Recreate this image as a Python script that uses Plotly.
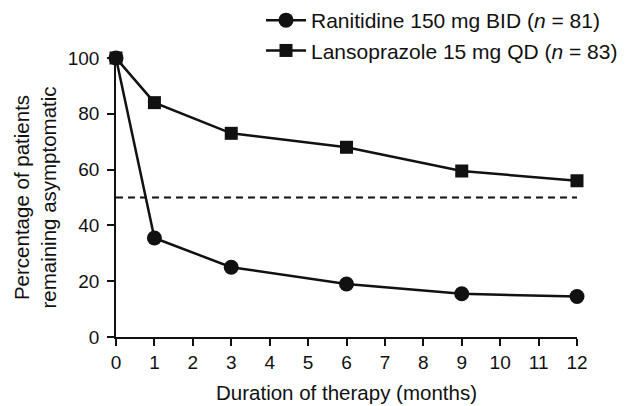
import plotly.graph_objects as go

months = [0, 1, 3, 6, 9, 12]
ranitidine = [100, 35.5, 25, 19, 15.5, 14.5]
lansoprazole = [100, 84, 73, 68, 59.5, 56]
threshold = 50
x_ticks = list(range(0, 13))
y_ticks = [0, 20, 40, 60, 80, 100]

# page body adds an 8px offset; size figure so the visible area is 627x406
W, H = 619, 398
L, R, T, B = 108, 50, 50, 69
PW, PH = W - L - R, H - T - B

fig = go.Figure()
fig.add_trace(go.Scatter(
    x=[0, 12], y=[threshold, threshold], mode="lines",
    line=dict(color="#111", width=2, dash="7px,5px"), showlegend=False, hoverinfo="skip"))
fig.add_trace(go.Scatter(
    x=months, y=lansoprazole, mode="lines+markers",
    name="Lansoprazole 15 mg QD (<i>n</i> = 83)",
    line=dict(color="#111", width=2.5),
    marker=dict(symbol="square", size=13, color="#111"), cliponaxis=False))
fig.add_trace(go.Scatter(
    x=months, y=ranitidine, mode="lines+markers",
    name="Ranitidine 150 mg BID (<i>n</i> = 81)",
    line=dict(color="#111", width=2.5),
    marker=dict(symbol="circle", size=15, color="#111"), cliponaxis=False))

fig.update_layout(
    width=W, height=H,
    margin=dict(l=L, r=R, t=T, b=B, autoexpand=False),
    paper_bgcolor="white", plot_bgcolor="white",
    font=dict(family="Liberation Sans, Arial, sans-serif", size=19, color="#111"),
    showlegend=True,
    legend=dict(x=(253 - L) / PW, y=1 + (T + 8) / PH, xanchor="left", yanchor="top",
                traceorder="reversed", font=dict(size=21),
                bgcolor="rgba(0,0,0,0)", itemwidth=40, tracegroupgap=0),
    xaxis=dict(range=[0, 12], tickvals=x_ticks, showline=True, linecolor="#111",
               linewidth=1.5, ticks="outside", ticklen=7, tickwidth=1.5,
               tickcolor="#111", showgrid=False, zeroline=False, automargin=True,
               title=dict(text="Duration of therapy (months)", font=dict(size=20.5),
                          standoff=14)),
    yaxis=dict(range=[0, 100], tickvals=y_ticks, showline=True, linecolor="#111",
               linewidth=1.5, ticks="outside", ticklen=7, tickwidth=1.5,
               tickcolor="#111", showgrid=False, zeroline=False, automargin=True,
               ticklabelstandoff=4,
               title=dict(text="Percentage of patients<br>remaining asymptomatic",
                          font=dict(size=20.5), standoff=6)),
)

fig.write_html("out.html")
